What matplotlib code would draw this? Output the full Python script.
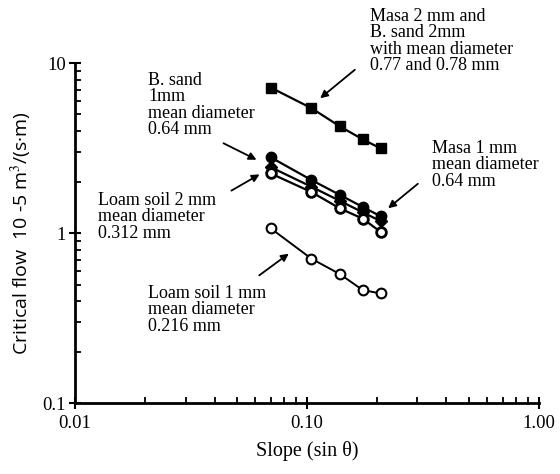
import numpy as np
import matplotlib
matplotlib.use("Agg")
import matplotlib.pyplot as plt
from matplotlib.ticker import FixedLocator, FixedFormatter, LogLocator, NullFormatter

plt.rcParams['font.family'] = ['Liberation Serif', 'DejaVu Serif']
plt.rcParams['mathtext.fontset'] = 'stix'

# slope = sin(theta) for 4, 6, 8, 10, 12 degrees
slope = [0.0698, 0.1045, 0.139, 0.174, 0.208]

masa2_bsand2 = [7.2, 5.45, 4.25, 3.57, 3.16]
bsand1 = [2.8, 2.06, 1.68, 1.43, 1.26]
masa1 = [2.45, 1.88, 1.55, 1.33, 1.18]
loam2 = [2.25, 1.75, 1.40, 1.22, 1.02]
loam1 = [1.07, 0.71, 0.575, 0.464, 0.443]

fig = plt.figure(figsize=(5.6, 4.74), dpi=100)
ax = fig.add_axes([0.134, 0.149, 0.828, 0.7175])

ax.plot(slope, masa2_bsand2, '-s', color='black', ms=7.5, lw=1.6)
ax.plot(slope, bsand1, '-o', color='black', ms=7.5, lw=1.6)
ax.plot(slope, masa1, '-D', color='black', ms=6.5, lw=1.6)
ax.plot(slope, loam2, '-o', color='black', mfc='white', mew=2, ms=7, lw=1.6)
ax.plot(slope, loam1, '-o', color='black', mfc='white', mew=1.5, ms=7, lw=1.4)

ax.set_xscale('log')
ax.set_yscale('log')
ax.set_xlim(0.01, 1.0)
ax.set_ylim(0.1, 10)

ax.xaxis.set_major_locator(FixedLocator([0.01, 0.1, 1.0]))
ax.xaxis.set_major_formatter(FixedFormatter(['0.01', '0.10', '1.00']))
ax.yaxis.set_major_locator(FixedLocator([0.1, 1, 10]))
ax.yaxis.set_major_formatter(FixedFormatter(['0.1', '1', '10']))
for a in (ax.xaxis, ax.yaxis):
    a.set_minor_locator(LogLocator(base=10, subs=np.arange(2, 10)))
    a.set_minor_formatter(NullFormatter())

ax.tick_params(which='major', direction='inout', length=9, width=1.5, labelsize=13.5)
ax.tick_params(which='minor', direction='in', length=4, width=1.3)
ax.tick_params(axis='x', pad=4)
ax.tick_params(axis='y', pad=2)
ax.spines['top'].set_visible(False)
ax.spines['right'].set_visible(False)
ax.spines['left'].set_linewidth(2)
ax.spines['bottom'].set_linewidth(2)

ax.set_xlabel('Slope (sin θ)', fontsize=14.5, labelpad=6)
ax.set_ylabel('Critical flow  10 -5 m$^{3}$/(s·m)', fontsize=14,
              family=['Open Sans', 'DejaVu Sans'], labelpad=6)

arrow = dict(arrowstyle='-|>', color='black', lw=1.3, mutation_scale=11)
fs = 13

def note(text, xy_px, text_px, tail_px):
    # helper: positions given in figure pixels (from top-left)
    ax.annotate('', xy=(xy_px[0], 474 - xy_px[1]), xycoords='figure pixels',
                xytext=(tail_px[0], 474 - tail_px[1]), textcoords='figure pixels',
                arrowprops=arrow)
    fig.text(text_px[0] / 560, 1 - text_px[1] / 474, text, fontsize=fs,
             va='top', ha='left', linespacing=0.95)

note('Masa 2 mm and\nB. sand 2mm\nwith mean diameter\n0.77 and 0.78 mm',
     (318, 100), (370, 8), (357, 68))
note('B. sand\n1mm\nmean diameter\n0.64 mm',
     (259, 161), (148, 72), (221, 142))
note('Loam soil 2 mm\nmean diameter\n0.312 mm',
     (262, 173), (98, 192), (229, 192))
note('Masa 1 mm\nmean diameter\n0.64 mm',
     (386, 210), (432, 140), (420, 182))
note('Loam soil 1 mm\nmean diameter\n0.216 mm',
     (291, 252), (148, 285), (257, 277))

fig.savefig('out.png', dpi=100)
